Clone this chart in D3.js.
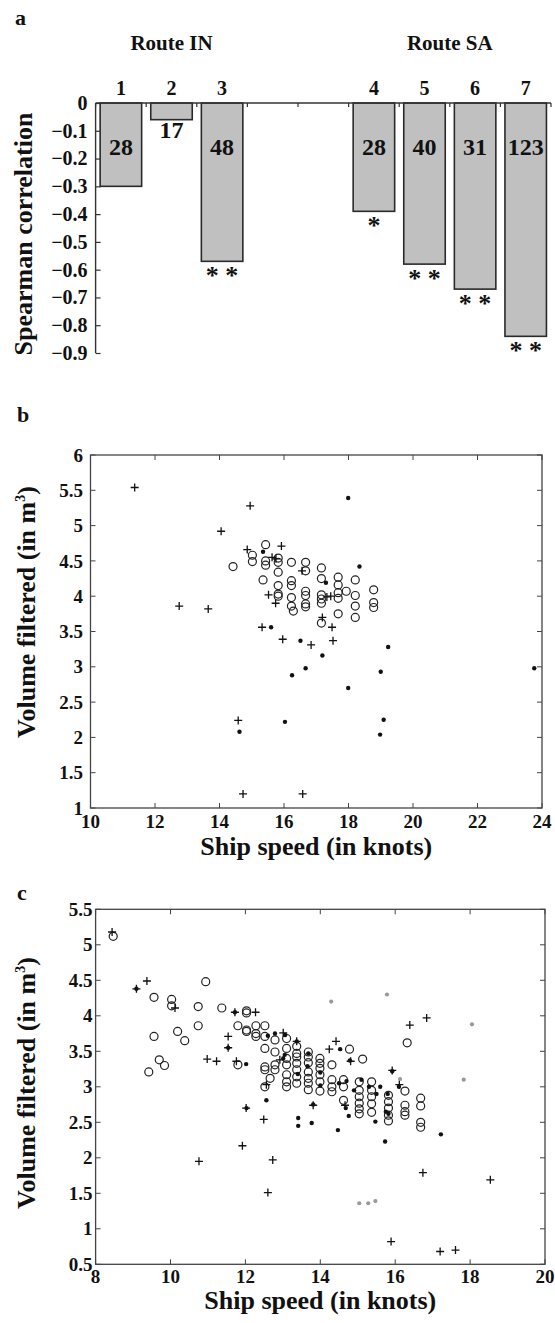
<!DOCTYPE html>
<html><head><meta charset="utf-8">
<script src="https://cdn.jsdelivr.net/npm/d3@7"></script>
<style>
body{margin:0;background:#fff}
text{font-family:"Liberation Serif","Times New Roman",serif;font-weight:bold;fill:#111}
</style>
</head><body>
<svg id="fig" width="555" height="1323"></svg>
<script>
// ---------- Panel a : Spearman correlations ----------
const categories   = ["1","2","3","4","5","6","7"];
const routes       = ["IN","IN","IN","SA","SA","SA","SA"];
const routeNames   = ["Route IN","Route SA"];
const correlation  = [-0.30,-0.06,-0.57,-0.39,-0.58,-0.67,-0.84];
const sampleSize   = [28,17,48,28,40,31,123];
const significance = ["","","**","*","**","**","**"];
const corrTicks    = [0,-0.1,-0.2,-0.3,-0.4,-0.5,-0.6,-0.7,-0.8,-0.9];

// ---------- Panel b : route IN ----------
const bPlus = [[11.37,5.54],[14.95,5.28],[14.05,4.92],[14.86,4.66],[15.92,4.71],[15.63,4.55],[15.75,4.53],
  [12.75,3.86],[13.65,3.82],[15.52,4.02],[15.74,3.90],[16.56,4.36],[15.32,3.56],[15.96,3.39],[16.84,3.31],
  [17.19,3.70],[17.49,3.56],[17.52,3.37],[17.33,3.99],[17.45,4.00],[14.58,2.24],[14.73,1.20],[16.58,1.20]];
const bDot = [[17.99,5.39],[15.35,4.63],[18.34,4.42],[17.30,4.19],[15.60,3.56],[16.51,3.37],[17.19,3.16],
  [19.23,3.28],[16.67,2.98],[16.25,2.88],[19.00,2.93],[17.99,2.70],[16.03,2.22],[19.09,2.25],[14.62,2.08],
  [18.98,2.04],[23.76,2.98]];
const bCircle = [[14.42,4.42],[15.02,4.58],[15.02,4.49],[15.43,4.73],[15.43,4.50],[15.43,4.44],[15.82,4.54],
  [15.82,4.48],[15.82,4.34],[15.35,4.23],[15.82,4.15],[15.82,4.03],[15.82,4.00],[16.23,4.48],[16.23,4.22],
  [16.23,4.15],[16.23,3.98],[16.23,3.86],[16.29,3.79],[16.67,4.48],[16.67,4.36],[16.67,4.07],[16.67,4.01],
  [16.67,3.89],[16.67,3.85],[17.16,4.40],[17.16,4.25],[17.16,4.02],[17.16,3.96],[17.16,3.90],[17.16,3.62],
  [17.68,4.27],[17.68,4.16],[17.68,4.05],[17.68,3.97],[17.68,3.75],[17.93,4.07],[18.21,4.23],[18.21,4.01],
  [18.21,3.86],[18.21,3.70],[18.78,4.09],[18.78,3.91],[18.78,3.84]];
const bXTicks = [10,12,14,16,18,20,22,24];
const bYTicks = [1,1.5,2,2.5,3,3.5,4,4.5,5,5.5,6];

// ---------- Panel c : route SA ----------
const cCircle = [[8.47,5.12],[9.42,3.21],[9.56,4.26],[9.56,3.71],[9.70,3.38],[9.84,3.30],[10.03,4.23],[10.03,4.14],
  [10.19,3.78],[10.38,3.65],[10.74,4.13],[10.74,3.86],[10.94,4.48],[11.37,4.11],[11.80,3.86],[11.80,3.31],
  [12.03,4.07],[12.03,4.04],[12.03,3.80],[12.03,3.78],[12.28,3.86],[12.28,3.75],[12.28,3.71],
  [12.52,3.86],[12.52,3.71],[12.52,3.54],[12.52,3.28],[12.52,3.24],[12.52,3.00],[12.66,3.12],
  [12.79,3.66],[12.79,3.49],[12.79,3.31],[12.79,3.24],
  [13.10,3.68],[13.10,3.54],[13.10,3.40],[13.10,3.31],[13.10,3.17],[13.10,3.07],[13.10,3.00],
  [13.37,3.57],[13.37,3.47],[13.37,3.42],[13.37,3.33],[13.37,3.24],[13.37,3.14],[13.37,3.05],
  [13.68,3.49],[13.68,3.42],[13.68,3.34],[13.68,3.21],[13.68,3.12],[13.68,3.05],[13.68,2.96],
  [13.99,3.40],[13.99,3.33],[13.99,3.26],[13.99,3.17],[13.99,3.07],[13.99,2.94],
  [14.31,3.31],[14.31,3.10],[14.31,3.00],[14.31,2.93],[14.62,3.10],[14.62,3.00],[14.62,2.81],[14.78,3.53],
  [15.04,3.07],[15.04,2.95],[15.04,2.86],[15.04,2.77],[15.04,2.69],[15.04,2.62],[15.13,3.39],
  [15.37,3.07],[15.37,2.95],[15.37,2.86],[15.37,2.76],[15.37,2.64],
  [15.82,2.88],[15.82,2.79],[15.82,2.70],[15.82,2.60],[15.82,2.52],
  [16.26,2.94],[16.26,2.74],[16.26,2.65],[16.26,2.60],[16.32,3.62],
  [16.68,2.84],[16.68,2.73],[16.68,2.50],[16.68,2.43]];
const cPlus = [[8.44,5.18],[9.37,4.49],[9.09,4.38],[10.12,4.11],[10.98,3.39],[11.23,3.36],[11.54,3.71],[11.54,3.55],
  [11.72,4.05],[11.76,3.36],[12.27,4.05],[12.56,3.03],[12.92,3.38],[13.01,3.76],[14.24,3.53],[14.42,3.64],
  [16.11,3.03],[16.39,3.87],[16.84,3.97],[13.81,2.74],[12.49,2.54],[10.76,1.95],[11.92,2.17],[12.73,1.97],
  [12.60,1.51],[16.74,1.79],[18.54,1.69],[15.89,0.82],[17.20,0.68],[17.61,0.70],[12.02,2.70],[15.92,3.23],
  [14.81,3.36],[14.66,2.74],[13.37,3.64]];
const cDot = [[9.09,4.38],[11.54,3.55],[11.72,4.05],[12.02,3.32],[12.03,2.70],[12.56,2.81],[12.60,3.72],
  [12.79,3.75],[13.06,3.73],[13.05,3.45],[13.01,3.40],[13.37,3.64],[13.68,3.47],[13.66,3.29],[13.40,3.18],
  [14.00,3.20],[14.00,3.02],[14.53,3.53],[14.79,3.37],[14.50,3.05],[14.70,3.08],[14.90,2.95],[15.10,3.10],
  [15.30,3.00],[15.50,2.90],[15.60,3.00],[15.92,3.22],[15.80,2.90],[15.75,2.65],[15.82,2.62],[14.68,2.70],
  [13.41,2.56],[13.41,2.45],[13.77,2.49],[13.81,2.75],[14.47,2.39],[14.76,2.59],[15.47,2.51],[15.73,2.23],
  [17.22,2.33],[16.10,3.00]];
const cGrey = [[14.29,4.20],[15.78,4.30],[18.05,3.88],[17.83,3.10],[16.13,3.11],[15.04,1.36],[15.28,1.36],[15.47,1.39]];
const cXTicks = [8,10,12,14,16,18,20];
const cYTicks = [0.5,1,1.5,2,2.5,3,3.5,4,4.5,5,5.5];

const svg = d3.select("#fig");
const INK = "#111";

// ================= Panel a =================
(function(){
  const g = svg.append("g");
  const inCats = categories.filter((c,i)=>routes[i]==="IN");
  const saCats = categories.filter((c,i)=>routes[i]==="SA");
  const slots = [...inCats,"gapA","gapB",...saCats];
  const x = d3.scaleBand().domain(slots).range([95.6,551]).paddingInner(0.18).paddingOuter(0.09);
  const y = d3.scaleLinear().domain([0,-0.9]).range([103,353]);
  const step = x.step();

  // bars
  const bars = categories.map((c,i)=>({c, v:correlation[i], n:sampleSize[i], s:significance[i], r:routes[i]}));
  g.selectAll("rect.bar").data(bars).join("rect")
    .attr("x",d=>x(d.c)).attr("y",y(0)).attr("width",x.bandwidth())
    .attr("height",d=>y(d.v)-y(0))
    .attr("fill","#c0c0c0").attr("stroke","#2a2a2a").attr("stroke-width",1.6);

  // sample-size labels
  g.selectAll("text.n").data(bars).join("text")
    .attr("x",d=>x(d.c)+x.bandwidth()/2)
    .attr("y",d=> (y(d.v)-y(0) < 35) ? y(d.v)+18 : y(-0.16)+8)
    .attr("text-anchor","middle").style("font-size","24px").text(d=>d.n);

  // significance stars
  g.selectAll("text.s").data(bars.filter(d=>d.s)).join("text")
    .attr("x",d=>x(d.c)+x.bandwidth()/2)
    .attr("y",d=>y(d.v)+23)
    .attr("text-anchor","middle").style("font-size","26px")
    .text(d=>d.s.split("").join(" "));

  // top axis line with category numbers
  g.append("line").attr("x1",95.6).attr("x2",551).attr("y1",y(0)).attr("y2",y(0))
    .attr("stroke","#333").attr("stroke-width",1.4);
  d3.range(slots.length+1).forEach(k=>{
    const xx = 95.6 + k*step;
    g.append("line").attr("x1",xx).attr("x2",xx).attr("y1",y(0)).attr("y2",y(0)+4)
      .attr("stroke","#333").attr("stroke-width",1.2);
  });
  g.selectAll("text.cat").data(categories).join("text")
    .attr("x",d=>x(d)+x.bandwidth()/2).attr("y",95)
    .attr("text-anchor","middle").style("font-size","20px").text(d=>d);

  // route titles
  [inCats, saCats].forEach((cs,k)=>{
    const cx = (x(cs[0]) + x(cs[cs.length-1]) + x.bandwidth())/2;
    g.append("text").attr("x",cx).attr("y",50).attr("text-anchor","middle")
      .style("font-size","21px").text(routeNames[k]);
  });

  // y axis
  const ax = d3.axisLeft(y).tickValues(corrTicks).tickSize(-5).tickPadding(8)
    .tickFormat(d=> d===0 ? "0" : "\u2212"+d3.format(".1f")(-d));
  const ag = g.append("g").attr("transform","translate(95.6,0)").call(ax);
  ag.select(".domain").attr("stroke","#333").attr("stroke-width",1.4).attr("d","M0,"+y(0)+"V"+y(-0.9));
  ag.selectAll(".tick line").attr("stroke","#333").attr("stroke-width",1.2);
  ag.selectAll(".tick text").style("font-size","20px").attr("fill",INK)
    .style("font-family","'Liberation Serif',serif").style("font-weight","bold");

  g.append("text").attr("transform","translate(32,234) rotate(-90)").attr("text-anchor","middle")
    .style("font-size","26px").text("Spearman correlation");
  g.append("text").attr("x",15).attr("y",25).style("font-size","22px").text("a");
})();

// ================= scatter panels =================
function scatter(opt){
  const g = svg.append("g");
  const x = d3.scaleLinear().domain(opt.xd).range([opt.left,opt.right]);
  const y = d3.scaleLinear().domain(opt.yd).range([opt.bottom,opt.top]);
  const T = 5;
  g.append("rect").attr("x",opt.left).attr("y",opt.top)
    .attr("width",opt.right-opt.left).attr("height",opt.bottom-opt.top)
    .attr("fill","none").attr("stroke","#444").attr("stroke-width",1.3);
  opt.xt.forEach(v=>{
    const xx = x(v);
    g.append("line").attr("x1",xx).attr("x2",xx).attr("y1",opt.bottom).attr("y2",opt.bottom-T).attr("stroke","#444");
    g.append("line").attr("x1",xx).attr("x2",xx).attr("y1",opt.top).attr("y2",opt.top+T).attr("stroke","#444");
    g.append("text").attr("x",xx).attr("y",opt.xtBase).attr("text-anchor","middle")
      .style("font-size","19px").text(v);
  });
  opt.yt.forEach(v=>{
    const yy = y(v);
    g.append("line").attr("x1",opt.left).attr("x2",opt.left+T).attr("y1",yy).attr("y2",yy).attr("stroke","#444");
    g.append("line").attr("x1",opt.right).attr("x2",opt.right-T).attr("y1",yy).attr("y2",yy).attr("stroke","#444");
    g.append("text").attr("x",opt.ytRight).attr("y",yy).attr("dy","0.35em").attr("text-anchor","end")
      .style("font-size","19px").text(v);
  });
  const plus = "M-4,0H4M0,-4V4";
  if(opt.circle) g.selectAll("circle.o").data(opt.circle).join("circle")
    .attr("cx",d=>x(d[0])).attr("cy",d=>y(d[1])).attr("r",4)
    .attr("fill","none").attr("stroke","#222").attr("stroke-width",1.2);
  if(opt.grey) g.selectAll("circle.g").data(opt.grey).join("circle")
    .attr("cx",d=>x(d[0])).attr("cy",d=>y(d[1])).attr("r",2.1).attr("fill","#999");
  if(opt.dot) g.selectAll("circle.d").data(opt.dot).join("circle")
    .attr("cx",d=>x(d[0])).attr("cy",d=>y(d[1])).attr("r",2.2).attr("fill",INK);
  if(opt.plus) g.selectAll("path.p").data(opt.plus).join("path")
    .attr("transform",d=>`translate(${x(d[0])},${y(d[1])})`).attr("d",plus)
    .attr("stroke",INK).attr("stroke-width",1.3).attr("fill","none");

  g.append("text").attr("x",(opt.left+opt.right)/2).attr("y",opt.xlBase).attr("text-anchor","middle")
    .style("font-size","26px").text("Ship speed (in knots)");
  const yl = g.append("text").attr("transform",`translate(35,${opt.ylCenter}) rotate(-90)`)
    .attr("text-anchor","middle").style("font-size","26px");
  yl.append("tspan").text("Volume filtered (in m");
  yl.append("tspan").attr("dy",-10).style("font-size","14px").text("3");
  yl.append("tspan").attr("dy",10).text(")");
  g.append("text").attr("x",opt.lab[0]).attr("y",opt.lab[1]).style("font-size","22px").text(opt.label);
}

scatter({xd:[10,24], yd:[1,6], left:90.5, right:542, top:455, bottom:808,
  xt:bXTicks, yt:bYTicks, xtBase:828, ytRight:83, xlBase:855, ylCenter:612,
  plus:bPlus, dot:bDot, circle:bCircle, label:"b", lab:[17,422]});

scatter({xd:[8,20], yd:[0.5,5.5], left:95.6, right:545, top:909.3, bottom:1264.3,
  xt:cXTicks, yt:cYTicks, xtBase:1283, ytRight:92.5, xlBase:1309, ylCenter:1083,
  plus:cPlus, dot:cDot, circle:cCircle, grey:cGrey, label:"c", lab:[17,900]});
</script>
</body></html>
